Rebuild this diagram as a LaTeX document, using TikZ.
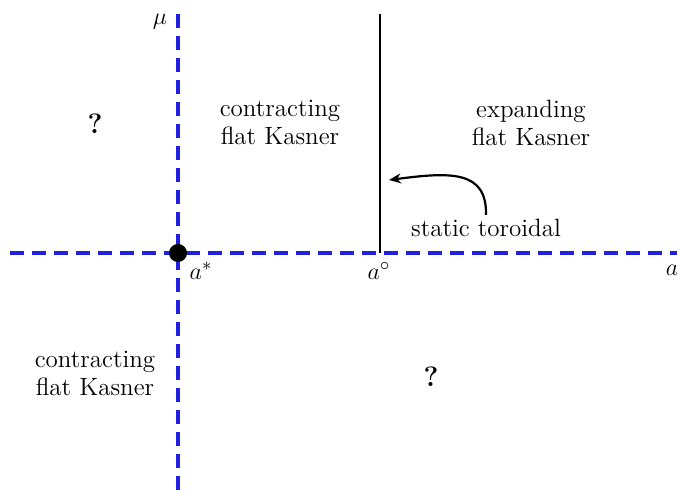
\documentclass[tikz,border=0pt]{standalone}
\usetikzlibrary{arrows.meta}
\begin{document}
\begin{tikzpicture}[x=0.5pt,y=-0.5pt,
  axis/.style={draw={rgb,255:red,32;green,32;blue,224},line width=1.8pt,dash pattern=on 7pt off 4pt},
  lbl/.style={font=\fontsize{12.5}{14}\selectfont,align=center,inner sep=0pt},
  qm/.style={font=\fontsize{14}{16}\selectfont\bfseries,inner sep=0pt}]
\useasboundingbox (0,0) rectangle (677,491);
\coordinate (vt) at (178,14);
\coordinate (vb) at (178,491);
\coordinate (hl) at (10,253);
\coordinate (hr) at (677,253);
\coordinate (st) at (380,14);
\coordinate (sb) at (380,253);
\draw[axis] (vt) -- (vb);
\draw[axis] (hl) -- (hr);
\draw[line width=1.2pt] (st) -- (sb);
\fill (178,253) circle[radius=4.5pt] coordinate (dot);
\node[lbl] (mu) at (160,22) {$\mu$};
\node[lbl] (astar) at (201,271) {$a^{*}$};
\node[lbl] (acirc) at (379,271) {$a^{\circ}$};
\node[lbl] (a) at (672,270) {$a$};
\node[qm] (q1) at (95,124) {?};
\node[qm] (q2) at (431,377) {?};
\node[lbl] (ck1) at (280,122) {contracting\\flat Kasner};
\node[lbl] (ek) at (531,123) {expanding\\flat Kasner};
\node[lbl] (ck2) at (95,373) {contracting\\flat Kasner};
\node[lbl] (stt) at (486,228) {static toroidal};
\coordinate (tip) at (389,180);
\draw[-{Stealth[length=6pt,width=5pt]},line width=1.1pt] (stt.north) ++(0,-4) .. controls (487,170) and (450,172) .. (tip);
\end{tikzpicture}
\end{document}
